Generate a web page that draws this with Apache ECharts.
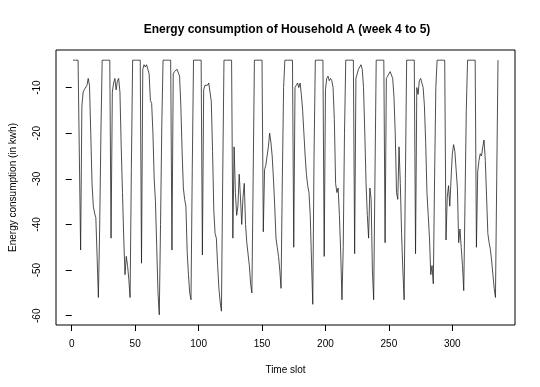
<!DOCTYPE html>
<html>
<head>
<meta charset="utf-8">
<script src="https://cdn.jsdelivr.net/npm/echarts@6/dist/echarts.min.js"></script>
<style>
html,body{margin:0;padding:0;background:#fff;}
#chart{width:540px;height:387px;}
</style>
</head>
<body>
<div id="chart"></div>
<script>
// Energy consumption per time slot, one array per day (slots 1..336)
var day0  = [-4,-4,-4,-4,-4,-4,-45.6,-14,-11,-10.4,-10.6,-9.5,-8,-9.5,-20,-31,-36,-37.5,-38.5,-47,-56,-41,-20];
var day1  = [-4,-4,-4,-4,-4,-4,-4,-43,-11,-9,-8,-10.5,-8.5,-8,-11,-23,-33,-43,-51,-47,-49,-52,-56,-28];
var day2  = [-4,-4,-4,-4,-4,-4,-4,-48.5,-6,-5,-5.5,-5,-6,-7,-12.8,-13.5,-20,-30,-35,-45,-55,-59.8,-40,-18];
var day3  = [-4,-4,-4,-4,-4,-4,-4,-45.6,-7,-6.5,-6.2,-6,-5.8,-7.5,-14,-24,-32,-34.5,-36,-46,-51,-55,-56.5,-28];
var day4  = [-4,-4,-4,-4,-4,-4,-4,-46.7,-10.5,-9.5,-9.8,-9.5,-9,-8.8,-13,-24,-37,-42,-43,-49,-54,-57,-59,-30];
var day5  = [-4,-4,-4,-4,-4,-4,-4,-43,-23,-33,-38,-36,-29,-34,-40,-34,-31,-40,-44,-44,-49,-53,-55,-30];
var day6  = [-4,-4,-4,-4,-4,-4,-4,-41.6,-28,-27,-25,-23,-20,-22,-25,-30,-36,-43,-45,-47,-50,-54,-30,-10];
var day7  = [-4,-4,-4,-4,-4,-4,-4,-45,-10,-9.5,-9,-10,-9,-11.5,-15,-20,-25,-29,-31.5,-33,-38,-48,-57.5,-25];
var day8  = [-4,-4,-4,-4,-4,-4,-4,-47,-10.5,-8,-7.5,-8.5,-8,-8.5,-10,-17,-31,-33,-32,-38,-46,-56.5,-45,-20];
var day9  = [-4,-4,-4,-4,-4,-4,-4,-46.4,-8,-7,-6,-5.5,-5,-6,-10,-20,-31,-38,-43,-32,-34.5,-50,-56.5,-30];
var day10 = [-4,-4,-4,-4,-4,-4,-4,-44,-8,-7.5,-7,-6.5,-6.2,-8,-12,-20,-33,-34.5,-23,-31,-42,-50,-56.5,-30];
var day11 = [-4,-4,-4,-4,-4,-4,-4,-46.4,-10,-11.5,-8.5,-8,-9,-10,-14,-22,-33,-38,-43,-51,-49,-53,-30,-10];
var day12 = [-4,-4,-4,-4,-4,-4,-4,-43.4,-34,-31.5,-36,-30,-24.5,-22.5,-24,-28,-32,-44,-41,-45,-49,-54.5,-35,-15];
var day13 = [-4,-4,-4,-4,-4,-4,-4,-45,-28.5,-26,-24.5,-25,-23,-21.5,-26,-34,-42,-44,-45.5,-48,-51,-54,-56,-30,-4];

var xTicks = [0, 50, 100, 150, 200, 250, 300];
var yTicks = [-60, -50, -40, -30, -20, -10];

var values = [].concat(day0, day1, day2, day3, day4, day5, day6, day7, day8, day9, day10, day11, day12, day13);
var seriesData = values.map(function (v, i) { return [i + 1, v]; });

var chart = echarts.init(document.getElementById('chart'), null, {renderer: 'canvas'});
var font = 'Liberation Sans, Arial, sans-serif';
chart.setOption({
  animation: false,
  backgroundColor: '#fff',
  title: {
    text: 'Energy consumption of Household A (week 4 to 5)',
    left: 282,
    top: 19,
    textAlign: 'center',
    textStyle: {fontFamily: font, fontSize: 12, fontWeight: 'bold', color: '#000'}
  },
  grid: {
    left: 49, right: 25, top: 50, bottom: 62,
    show: true, borderColor: '#000', borderWidth: 1, backgroundColor: 'transparent'
  },
  xAxis: {
    type: 'value',
    min: -12.4, max: 349.4,
    name: 'Time slot',
    nameLocation: 'middle',
    nameGap: 40,
    nameTextStyle: {fontFamily: font, fontSize: 10, color: '#000'},
    axisLine: {show: false},
    axisTick: {show: true, length: 6, customValues: xTicks, lineStyle: {color: '#000'}},
    axisLabel: {customValues: xTicks, margin: 14, fontFamily: font, fontSize: 10, color: '#000'},
    splitLine: {show: false}
  },
  yAxis: {
    type: 'value',
    min: -62.03, max: -1.77,
    name: 'Energy consumption (in kwh)',
    nameLocation: 'middle',
    nameGap: 38,
    nameTextStyle: {fontFamily: font, fontSize: 10, color: '#000'},
    axisLine: {show: false},
    axisTick: {show: true, length: 6, customValues: yTicks, lineStyle: {color: '#000'}},
    axisLabel: {customValues: yTicks, rotate: 90, margin: 14, fontFamily: font, fontSize: 10, color: '#000'},
    splitLine: {show: false}
  },
  series: [{
    type: 'line',
    data: seriesData,
    showSymbol: false,
    symbol: 'none',
    lineStyle: {color: '#222', width: 0.8},
    silent: true
  }]
});
</script>
</body>
</html>
